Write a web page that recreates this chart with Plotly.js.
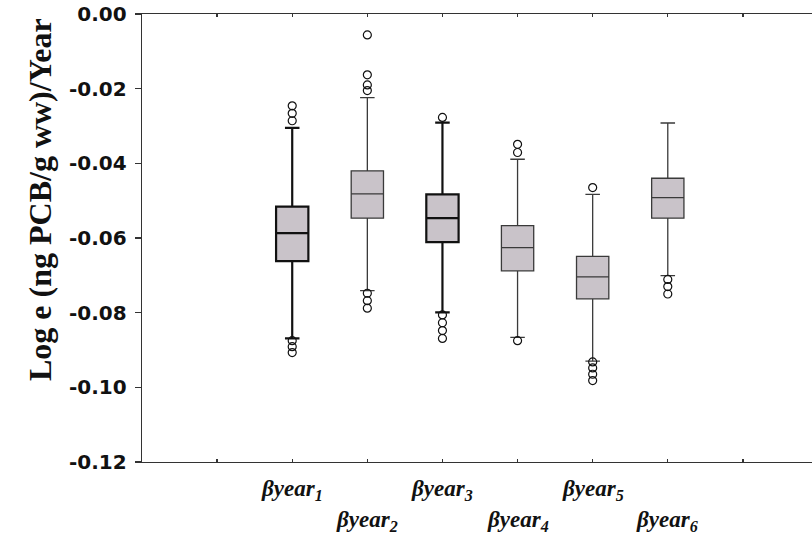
<!DOCTYPE html>
<html>
<head>
<meta charset="utf-8">
<script src="https://cdn.plot.ly/plotly-3.0.1.min.js"></script>
<style>
  html, body { margin: 0; padding: 0; background: #ffffff; }
  #chart { width: 812px; height: 543px; }
</style>
</head>
<body>
<div id="chart"></div>
<script>
// Coefficient labels (beta for each year)
const categories = ['βyear<sub>1</sub>', 'βyear<sub>2</sub>', 'βyear<sub>3</sub>',
                    'βyear<sub>4</sub>', 'βyear<sub>5</sub>', 'βyear<sub>6</sub>'];

// Box statistics per coefficient
const q1Values     = [-0.0662, -0.0547, -0.0611, -0.0688, -0.0763, -0.0547];
const medianValues = [-0.0587, -0.0482, -0.0547, -0.0626, -0.0704, -0.0492];
const q3Values     = [-0.0516, -0.0420, -0.0483, -0.0567, -0.0649, -0.0440];
const lowerFences  = [-0.0869, -0.0741, -0.0799, -0.0866, -0.0930, -0.0701];
const upperFences  = [-0.0305, -0.0224, -0.0291, -0.0389, -0.0483, -0.0292];

// Points beyond the whiskers
const outlierValues = [
  [-0.0246, -0.0266, -0.0286, -0.0875, -0.0891, -0.0907],
  [-0.0056, -0.0163, -0.0190, -0.0205, -0.0748, -0.0768, -0.0788],
  [-0.0277, -0.0806, -0.0827, -0.0848, -0.0869],
  [-0.0349, -0.0371, -0.0875],
  [-0.0465, -0.0932, -0.0948, -0.0965, -0.0982],
  [-0.0711, -0.0730, -0.0750]
];

// Y axis ticks
const yTickValues = [0, -0.02, -0.04, -0.06, -0.08, -0.10, -0.12];
const yTickLabels = ['0.00', '-0.02', '-0.04', '-0.06', '-0.08', '-0.10', '-0.12'];

const positions = categories.map((_, i) => i + 1);
const heavy = [true, false, true, false, false, false];

const traces = categories.map((name, i) => ({
  type: 'box',
  x: [positions[i]],
  q1: [q1Values[i]],
  median: [medianValues[i]],
  q3: [q3Values[i]],
  lowerfence: [lowerFences[i]],
  upperfence: [upperFences[i]],
  width: 0.43,
  whiskerwidth: 0.45,
  fillcolor: '#c9c3c9',
  line: { color: heavy[i] ? '#111111' : '#3a3a3a', width: heavy[i] ? 2.2 : 1.3 },
  boxpoints: false,
  hoverinfo: 'skip',
  showlegend: false
}));

const outX = [], outY = [];
outlierValues.forEach((vals, i) => vals.forEach(v => { outX.push(positions[i]); outY.push(v); }));
traces.push({
  type: 'scatter',
  mode: 'markers',
  x: outX,
  y: outY,
  marker: { symbol: 'circle-open', size: 8, color: '#111111', line: { width: 1.2, color: '#111111' } },
  hoverinfo: 'skip',
  showlegend: false
});

const annotations = categories.map((name, i) => ({
  x: positions[i],
  xref: 'x',
  y: 0,
  yref: 'paper',
  yshift: i % 2 === 0 ? -28 : -59,
  xanchor: 'center',
  yanchor: 'middle',
  showarrow: false,
  text: name,
  font: { family: 'Liberation Serif, Times New Roman, serif', size: 23, color: '#111111', weight: 'bold', style: 'italic' }
}));

annotations.push({
  x: 40,
  xref: 'pixel',
  y: 0,
  yref: 'paper',
  showarrow: false,
  textangle: -90,
  text: 'Log e (ng PCB/g ww)/Year',
  font: { family: 'Liberation Serif, Times New Roman, serif', size: 32, color: '#111111', weight: 'bold' }
});
// place the vertical title by paper coordinates
annotations[annotations.length - 1].xref = 'paper';
annotations[annotations.length - 1].x = (40 - 142) / 670;
annotations[annotations.length - 1].y = (462 - 200) / 448;
annotations[annotations.length - 1].xanchor = 'center';
annotations[annotations.length - 1].yanchor = 'middle';

const layout = {
  width: 812,
  height: 543,
  margin: { l: 142, r: 0, t: 14, b: 81, pad: 0 },
  paper_bgcolor: '#ffffff',
  plot_bgcolor: '#ffffff',
  boxmode: 'overlay',
  showlegend: false,
  hovermode: false,
  xaxis: {
    range: [-1, 7.92],
    tick0: 0,
    dtick: 1,
    ticks: 'inside',
    ticklen: 3,
    tickwidth: 1.3,
    tickcolor: '#333333',
    showticklabels: false,
    showgrid: false,
    zeroline: false,
    showline: true,
    linecolor: '#333333',
    linewidth: 1.3,
    mirror: 'allticks'
  },
  yaxis: {
    range: [-0.12, 0],
    tickvals: yTickValues,
    ticktext: yTickLabels,
    ticks: 'outside',
    ticklen: 6,
    tickwidth: 1.3,
    tickcolor: '#333333',
    ticklabelstandoff: 4,
    tickfont: { family: 'DejaVu Sans, sans-serif', size: 20, color: '#111111', weight: 'bold' },
    showgrid: false,
    zeroline: false,
    showline: true,
    linecolor: '#333333',
    linewidth: 1.3,
    mirror: false
  },
  annotations: annotations
};

Plotly.newPlot('chart', traces, layout, { staticPlot: true, displayModeBar: false });
</script>
</body>
</html>
